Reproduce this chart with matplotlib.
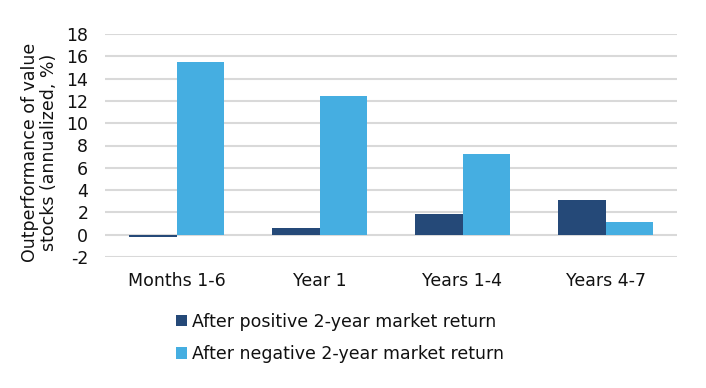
import matplotlib
matplotlib.use("Agg")
import matplotlib.pyplot as plt
import numpy as np
from matplotlib.patches import Patch

categories = ["Months 1-6", "Year 1", "Years 1-4", "Years 4-7"]
positive = [-0.2, 0.6, 1.9, 3.1]
negative = [15.5, 12.4, 7.2, 1.1]
series_names = ["After positive 2-year market return",
                "After negative 2-year market return"]
yticks = [-2, 0, 2, 4, 6, 8, 10, 12, 14, 16, 18]

dark = "#254978"
light = "#45AEE1"
fs = 12.5
tc = "#111111"

plt.rcParams['font.family'] = ['DejaVu Sans']
fig = plt.figure(figsize=(7.06, 3.88), dpi=100)
ax = fig.add_axes([105/706, 1-257/388, (677-105)/706, (257-34)/388])

x = np.arange(len(categories))
w = 0.335
ax.bar(x - w/2, positive, width=w, color=dark, zorder=3)
ax.bar(x + w/2, negative, width=w, color=light, zorder=3)

ax.set_xlim(-0.5, len(categories) - 0.5)
ax.set_ylim(-2, 18)
ax.set_yticks(yticks)
ax.set_yticklabels([str(t) for t in yticks], fontsize=fs, color=tc)
ax.set_xticks(x)
ax.set_xticklabels(categories, fontsize=fs, color=tc)
ax.tick_params(axis='both', length=0)
ax.tick_params(axis='y', pad=12)
ax.tick_params(axis='x', pad=11)
ax.grid(axis='y', color="#D9D9D9", linewidth=1.5, zorder=0)
for s in ax.spines.values():
    s.set_visible(False)

ax.set_ylabel("Outperformance of value\nstocks (annualized, %)", fontsize=fs,
              color=tc, linespacing=1.1)
ax.yaxis.set_label_coords((58-105)/572, (257-152)/223)

handles = [Patch(facecolor=dark), Patch(facecolor=light)]
fig.legend(handles, series_names, loc='center left',
           bbox_to_anchor=(176/706, 1-338/388), frameon=False,
           fontsize=fs, handlelength=0.65, handleheight=0.65,
           handletextpad=0.25, labelspacing=0.85, borderpad=0, borderaxespad=0,
           labelcolor=tc)

fig.savefig("out.png", dpi=100)
